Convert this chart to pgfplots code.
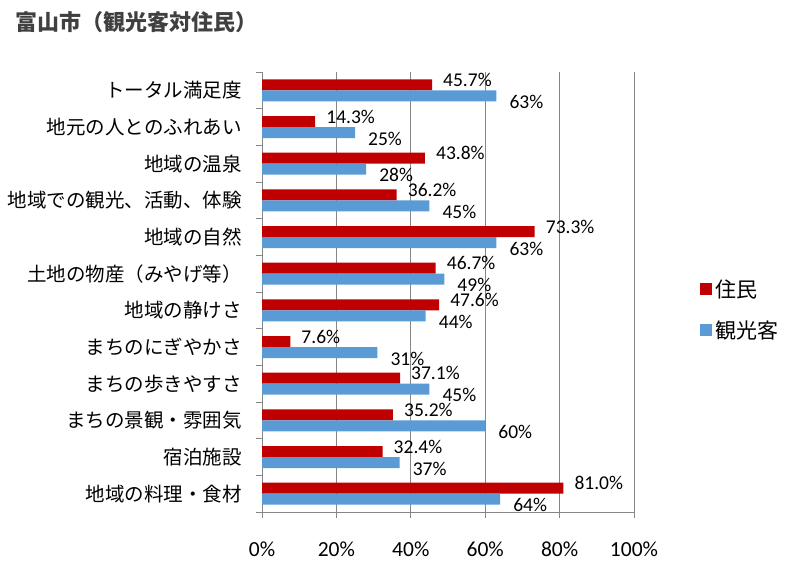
\documentclass[border=0pt]{standalone}
\usepackage{pgfplots}
\pgfplotsset{compat=1.18}
\usepackage{fontspec}
\setmainfont{Carlito}
\newfontfamily\jp{Noto Sans CJK JP}
\definecolor{resred}{RGB}{192,0,0}
\definecolor{visblue}{RGB}{91,155,213}
\definecolor{gridgray}{RGB}{134,134,134}

% columns: row index (top = 0), residents, visitors
\pgfplotstableread{
row res vis
0  45.7 63
1  14.3 25
2  43.8 28
3  36.2 45
4  73.3 63
5  46.7 49
6  47.6 44
7  7.6  31
8  37.1 45
9  35.2 60
10 32.4 37
11 81.0 64
}\survey

\begin{document}
\begin{tikzpicture}
\path[use as bounding box] (0,0) rectangle (800pt,571pt);
\node[anchor=west, inner sep=0pt, font=\jp\bfseries\fontsize{22}{22}\selectfont, text=black!75] at (15pt,549pt) {富山市（観光客対住民）};
\begin{axis}[
  at={(262pt,59pt)}, anchor=south west,
  scale only axis, width=372pt, height=440pt,
  xbar, bar width=11pt,
  /pgf/number format/assume math mode=true,
  xmin=0, xmax=100, ymin=-0.5, ymax=11.5, y dir=reverse,
  axis x line*=bottom, axis y line*=left,
  axis line style={gridgray, line width=0.8pt, -},
  xtick={0,20,...,100},
  xticklabel={\pgfmathprintnumber{\tick}\%},
  xticklabel style={font=\fontsize{21.5}{21.5}\selectfont, text=black, yshift=-20pt},
  xmajorgrids, grid style={gridgray, line width=0.8pt},
  tick align=outside, major tick length=6pt, minor tick length=6pt,
  x tick style={gridgray, line width=0.8pt},
  ytick={0,...,11},
  y tick style={draw=none},
  minor ytick={-0.5,0.5,...,11.5},
  minor y tick style={draw=gridgray, line width=0.8pt},
  yticklabels={トータル満足度, 地元の人とのふれあい, 地域の温泉, {地域での観光、活動、体験}, 地域の自然, 土地の物産（みやげ等）, 地域の静けさ, まちのにぎやかさ, まちの歩きやすさ, まちの景観・雰囲気, 宿泊施設, 地域の料理・食材},
  yticklabel style={font=\jp\fontsize{19.5}{19.5}\selectfont, text=black, inner sep=0pt, xshift=-14pt},
  legend image code/.code={\fill[#1] (0pt,-6pt) rectangle (12pt,6pt);},
  legend style={at={(1.168,0.46)}, anchor=west, draw=none, fill=none,
    font=\jp\fontsize{21}{21}\selectfont, row sep=18pt,
    nodes={inner xsep=4pt}},
  legend cell align=left,
]
\addplot[fill=resred, draw=none, bar shift=5.5pt, point meta=x,
  nodes near coords={\pgfmathprintnumber[fixed,fixed zerofill,precision=1]{\pgfplotspointmeta}\%},
  nodes near coords style={anchor=west, inner sep=1pt, xshift=10pt, yshift=5pt,
    font=\fontsize{19.5}{19.5}\selectfont, text=black}]
  table[x=res, y=row] {\survey};
\addlegendentry{住民}
\addplot[fill=visblue, draw=none, bar shift=-5.5pt, point meta=x,
  nodes near coords={\pgfmathprintnumber[fixed,precision=0]{\pgfplotspointmeta}\%},
  nodes near coords style={anchor=west, inner sep=1pt, xshift=12pt, yshift=-6pt,
    font=\fontsize{19.5}{19.5}\selectfont, text=black}]
  table[x=vis, y=row] {\survey};
\addlegendentry{観光客}
\end{axis}
\end{tikzpicture}
\end{document}
